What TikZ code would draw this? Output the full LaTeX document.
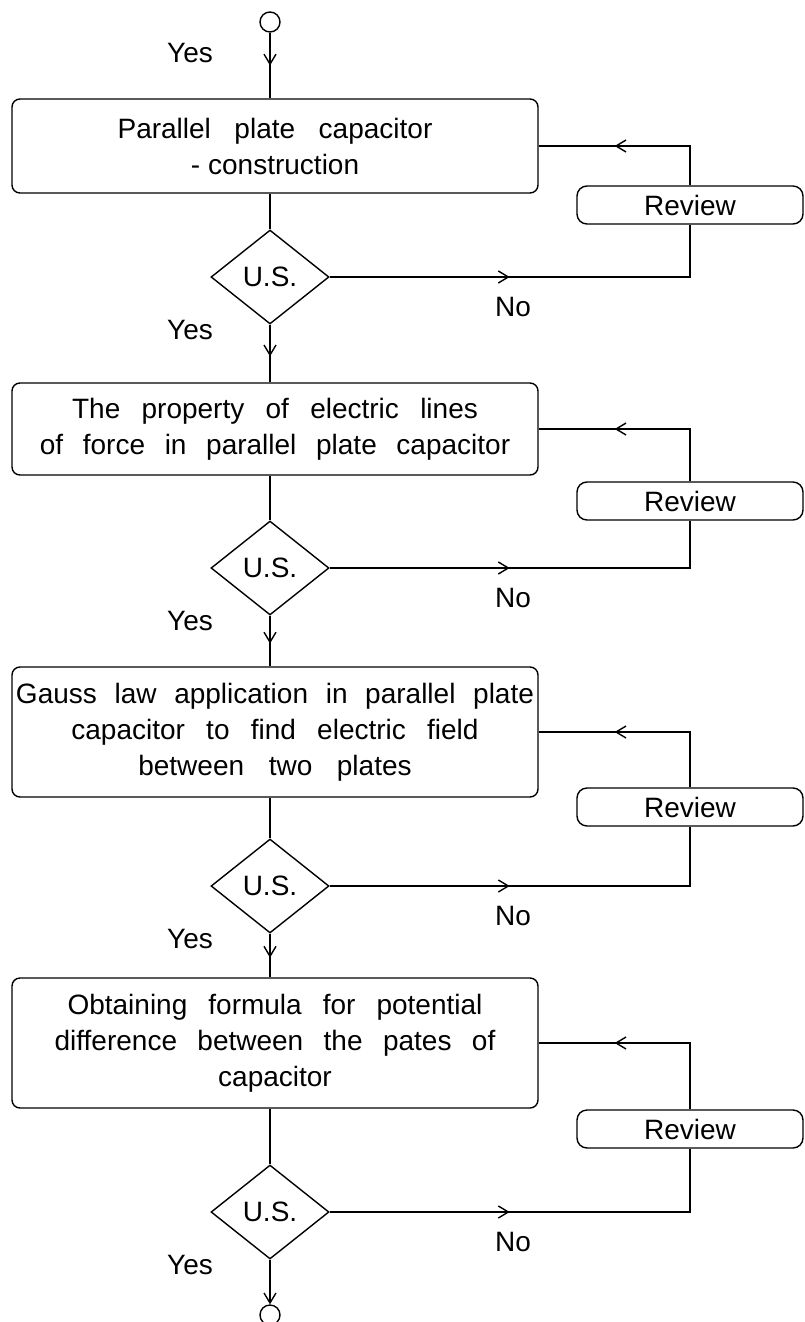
\documentclass[tikz,border=0pt]{standalone}
\usepackage{fontspec}
\setmainfont{Liberation Sans}
\usetikzlibrary{positioning, calc, shapes.geometric, arrows.meta, decorations.markings}
\tikzset{
    mid arrow/.style={postaction={decorate,decoration={markings,mark=at position #1 with {\arrow{Straight Barb[length=5pt,width=6pt]}}}}},
    mid arrow/.default=0.5,
    stage/.style={draw, rounded corners=4pt, minimum width=263pt, text width=259pt, align=center, inner sep=2pt,
        execute at begin node={\spaceskip=0.66em plus 0.1em minus 0.25em\relax}},
    check/.style={draw, diamond, minimum width=59pt, minimum height=47pt, inner sep=0pt},
    review/.style={draw, rounded corners=5pt, minimum width=113pt, minimum height=19pt, inner sep=0pt},
    terminal/.style={draw, circle, minimum size=10pt, inner sep=0pt}
}

\begin{document}
\begin{tikzpicture}[x=0.5pt, y=-0.5pt, line width=0.7pt, >={Straight Barb[length=5pt,width=6pt]},
        every node/.style={font=\fontsize{14}{18}\selectfont}]
        \useasboundingbox (0,0) rectangle (804,1322);
        %Stages
        \node[terminal] (start) at (270,22) {};
        \node[stage, minimum height=47pt] (s1) at (275,146) {Parallel plate capacitor\\-\hspace{4pt}construction};
        \node[stage, minimum height=46pt] (s2) at (275,429) {The property of electric lines\\of force in parallel plate capacitor};
        \node[stage, minimum height=65pt] (s3) at (275,732) {Gauss law application in parallel plate\\capacitor to find electric field\\between two plates};
        \node[stage, minimum height=65pt] (s4) at (275,1043) {Obtaining formula for potential\\difference between the pates of\\capacitor};
        \node[terminal] (stop) at (270,1315) {};
        \node (yes0) at (190,53) {Yes};
        %Checks and reviews
        \foreach \i/\y/\r in {1/277/205, 2/568/501, 3/886/807, 4/1212/1129}{
            \node[check] (c\i) at (270,\y) {U.S.};
            \node[review] (r\i) at (690,\r) {Review};
            \node (no\i) at (513,\y+30) {No};
            \node (yes\i) at (190,\y+53) {Yes};
        }
        %Paths (top-down)
        \draw[mid arrow] (start) -- (start |- s1.north);
        \foreach \i [evaluate=\i as \j using int(\i+1)] in {1,2,3}{
            \draw (s\i.south -| c\i) -- (c\i.north);
            \draw[mid arrow=0.55] (c\i.south) -- (c\i.south |- s\j.north);
        }
        \draw (s4.south -| c4) -- (c4.north);
        \draw[->] (c4.south) -- (stop);
        %Review loops
        \foreach \i in {1,...,4}{
            \draw[mid arrow=90pt] (c\i.east) -| (r\i.south);
            \draw[mid arrow=-38pt] (r\i.north) |- (s\i.east);
        }
\end{tikzpicture}
\end{document}
